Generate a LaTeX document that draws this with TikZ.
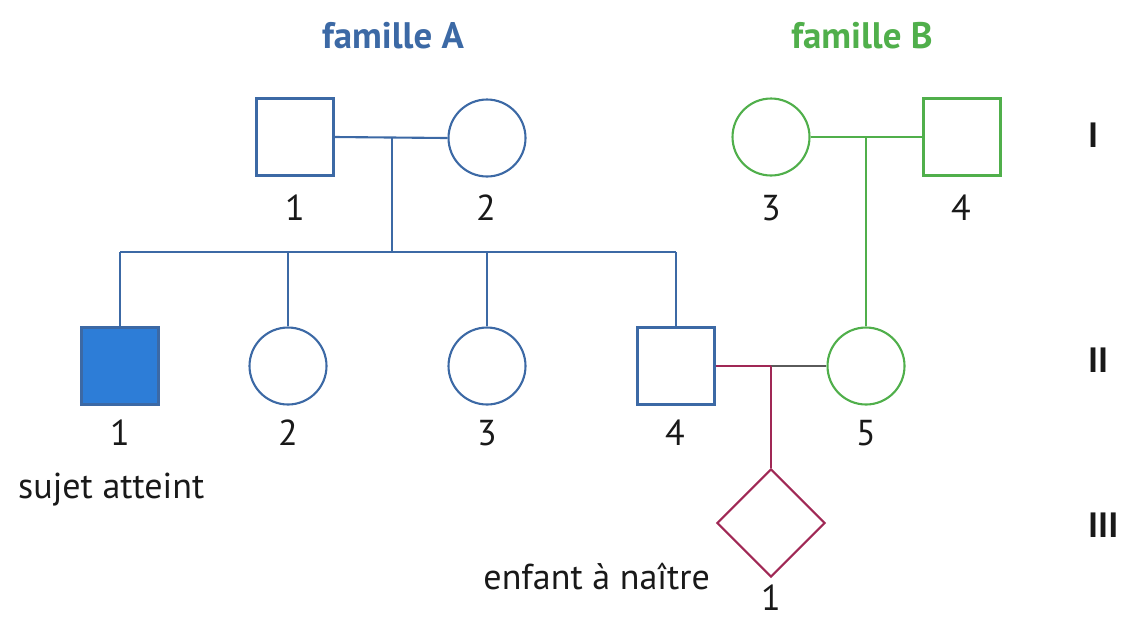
\documentclass[tikz,border=0pt]{standalone}
\usepackage{fontspec}
\setmainfont{PT Sans}
\usetikzlibrary{shapes.geometric}
\definecolor{bleuA}{RGB}{60,105,165}
\definecolor{bleuplein}{RGB}{45,125,215}
\definecolor{vertB}{RGB}{80,175,75}
\definecolor{pourpre}{RGB}{160,40,85}
\definecolor{grisT}{RGB}{90,90,90}
\tikzset{
  homme/.style={draw,rectangle,minimum size=1.54cm,inner sep=0pt,line width=1.2pt},
  femme/.style={draw,circle,minimum size=1.54cm,inner sep=0pt,line width=1.2pt},
  inconnu/.style={draw,diamond,minimum size=2.16cm,inner sep=0pt,line width=1.2pt},
  lien/.style={line width=1.2pt},
  numero/.style={font=\fontsize{20.5}{24}\selectfont,text=black!90},
  generation/.style={font=\fontsize{20}{24}\selectfont\bfseries,text=black!90},
  titre/.style={font=\fontsize{21}{25}\selectfont\bfseries},
}
\begin{document}
\begin{tikzpicture}[x=0.02cm,y=-0.02cm]
\useasboundingbox (0,0) rectangle (1124,620);
%					Titres des familles :
\node[titre,text=bleuA] (famA) at (393,36) {famille A};
\node[titre,text=vertB] (famB) at (862,36) {famille B};
%					Génération I :
\node[homme,bleuA] (I1) at (295,137) {};
\node[femme,bleuA] (I2) at (487,138) {};
\node[femme,vertB] (I3) at (771,137) {};
\node[homme,vertB] (I4) at (962,137) {};
\node[numero] (nI1) at (295,208) {1};
\node[numero] (nI2) at (486,208) {2};
\node[numero] (nI3) at (771,208) {3};
\node[numero] (nI4) at (961,208) {4};
%					Génération II :
\node[homme,bleuA,fill=bleuplein] (II1) at (120,366) {};
\node[femme,bleuA] (II2) at (288,366) {};
\node[femme,bleuA] (II3) at (487,366) {};
\node[homme,bleuA] (II4) at (676,366) {};
\node[femme,vertB] (II5) at (866,366) {};
\node[numero] (nII1) at (120,433) {1};
\node[numero] (nII2) at (288,433) {2};
\node[numero] (nII3) at (487,433) {3};
\node[numero] (nII4) at (675,433) {4};
\node[numero] (nII5) at (866,433) {5};
\node[numero,anchor=west] (atteint) at (12,490) {sujet atteint};
%					Génération III :
\node[inconnu,pourpre] (III1) at (771,523) {};
\node[numero,inner sep=1pt] (nIII1) at (771,598) {1};
\node[numero,anchor=east] (naitre) at (716,577) {enfant à naître};
%					Numéros des générations :
\node[generation,anchor=west] (gI) at (1082,135) {I};
\node[generation,anchor=west] (gII) at (1082,360) {II};
\node[generation,anchor=west] (gIII) at (1082,525) {III};
%					Tracé des liens de la famille A :
\coordinate (m12) at (392,138);
\coordinate (fratrie) at (392,252);
\draw[lien,bleuA] (I1.east) -- (I2.west);
\draw[lien,bleuA] (m12) -- (fratrie);
\draw[lien,bleuA] (II1.north |- fratrie) -- (II4.north |- fratrie);
\draw[lien,bleuA] (II1.north |- fratrie) -- (II1.north);
\draw[lien,bleuA] (II2.north |- fratrie) -- (II2.north);
\draw[lien,bleuA] (II3.north |- fratrie) -- (II3.north);
\draw[lien,bleuA] (II4.north |- fratrie) -- (II4.north);
%					Tracé des liens de la famille B :
\coordinate (m34) at (II5.north |- I3.east);
\draw[lien,vertB] (I3.east) -- (I4.west);
\draw[lien,vertB] (m34) -- (II5.north);
%					Tracé du couple II-4 / II-5 :
\coordinate (m45) at (III1.north |- II4.east);
\draw[lien,pourpre] (II4.east) -- (m45);
\draw[lien,grisT] (m45) -- (II5.west);
\draw[lien,pourpre] (m45) -- (III1.north);
\end{tikzpicture}
\end{document}
